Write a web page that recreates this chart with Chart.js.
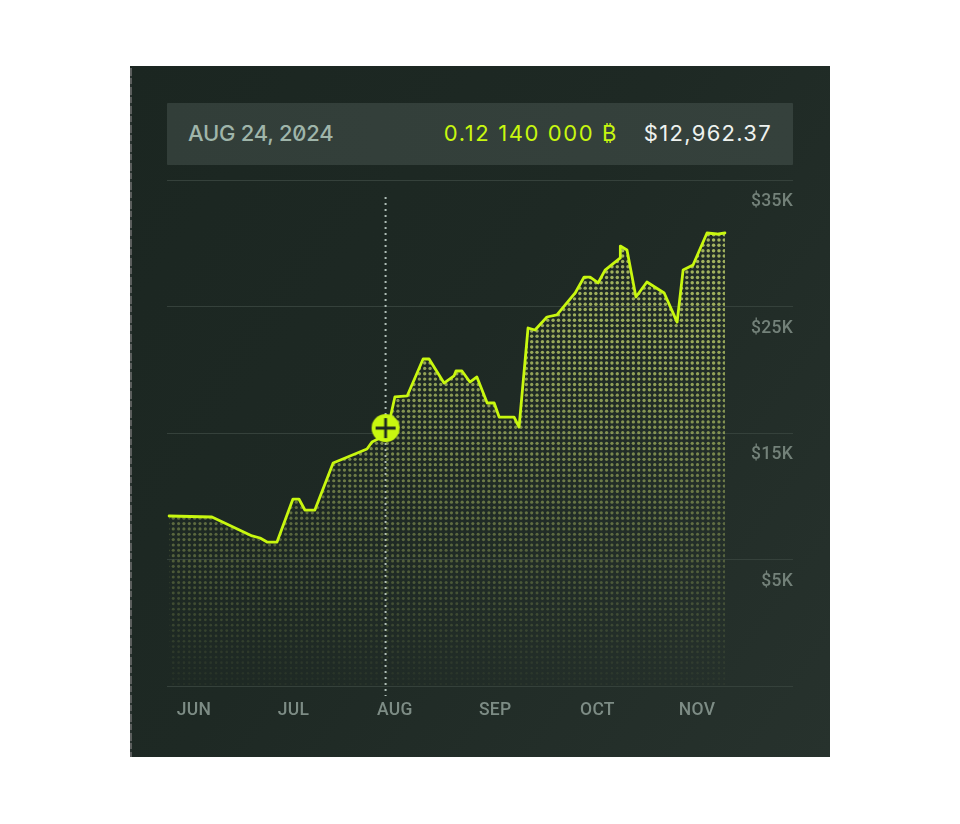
<!DOCTYPE html>
<html>
<head>
<meta charset="utf-8">
<script src="https://cdn.jsdelivr.net/npm/chart.js@4"></script>
<style>
html,body{margin:0;padding:0;background:#fff;width:960px;height:824px;overflow:hidden}
#panel{position:absolute;left:130px;top:66px;width:700px;height:691px;background:linear-gradient(125deg,#1b2621 0%,#1e2924 45%,#27322d 100%)}
#edge{position:absolute;left:130px;top:68px;width:2px;height:689px;background:repeating-linear-gradient(180deg,#5c5f5e 0 8px,#2a3330 8px 10px,#5c5f5e 10px 16px,#2a3330 16px 19px)}
#bar{position:absolute;left:167px;top:103px;width:626px;height:62px;background:linear-gradient(90deg,#323e39,#35413c);border-radius:1px}
#bar span{position:absolute;top:0;line-height:60px;font-family:Inter,sans-serif;font-size:22px;white-space:nowrap}
#date{left:21px;color:#9fb5aa;font-feature-settings:"zero" 1;font-weight:500;letter-spacing:-.25px}
#amount{right:175px;color:#c8f70f;letter-spacing:1.6px}
#price{right:21px;color:#eef2ef;letter-spacing:1.3px}
canvas{position:absolute;left:0;top:0}
</style>
</head>
<body>
<div id="panel"></div>
<div id="edge"></div>
<div id="bar"><span id="date"></span><span id="amount"></span><span id="price"></span></div>
<canvas id="c" width="960" height="824"></canvas>
<script>
const headerDate = "AUG 24, 2024";
const headerAmount = "0.12 140 000 ₿";
const headerPrice = "$12,962.37";

// days from 1 June
const days = [-7.5,5.4,17.5,19.9,22.0,25.0,29.8,31.6,33.4,36.4,41.9,52.1,53.6,55.4,57.8,60.5,64.2,69.0,70.8,75.3,78.3,78.9,80.7,83.1,85.2,88.3,90.4,91.9,96.4,97.9,100.6,102.7,106.3,109.3,114.8,117.5,119.3,121.7,123.8,128.3,128.4,130.4,133.1,136.4,141.6,145.5,147.3,150.3,154.5,157.5,159.9];
// thousands of dollars
const values = [8.44,8.36,6.86,6.70,6.38,6.38,9.78,9.78,8.91,8.91,12.63,13.73,14.29,14.53,14.68,17.85,17.93,20.85,20.85,18.95,19.51,19.90,19.90,19.03,19.43,17.37,17.37,16.26,16.26,15.47,23.30,23.14,24.17,24.33,26.07,27.33,27.33,26.86,27.88,28.83,29.78,29.47,25.75,26.94,26.07,23.77,27.88,28.28,30.81,30.73,30.81];

const monthLabels = ["JUN","JUL","AUG","SEP","OCT","NOV"];
const monthDays = [0,30,60.5,90.7,121.5,151.5];
const yTicks = [-5,5,15,25,35];
const cursorDay = [57.7];
const cursorValue = [15.39];
const cursorLineDays = [57.7,57.7];
const cursorLineValues = [33.66,-5.79];

const zip = (a,b) => a.map((x,i)=>({x,y:b[i]}));

document.getElementById('date').textContent = headerDate;
document.getElementById('amount').textContent = headerAmount;
document.getElementById('price').textContent = headerPrice;

// halftone fill pattern, anchored to the canvas
function halftone(w,h){
  const off = document.createElement('canvas'); off.width=w; off.height=h;
  const g = off.getContext('2d');
  const pitch = 5.35;
  const stops = [[220,.80,1.75],[350,.72,1.7],[430,.58,1.65],[500,.42,1.6],[560,.30,1.55],[610,.19,1.45],[650,.10,1.35],[686,.04,1.2]];
  const at = (y,k)=>{
    if(y<=stops[0][0]) return stops[0][k];
    for(let i=1;i<stops.length;i++) if(y<=stops[i][0]){
      const a=stops[i-1],b=stops[i],t=(y-a[0])/(b[0]-a[0]);
      return a[k]+(b[k]-a[k])*t;
    }
    return stops[stops.length-1][k];
  };
  for(let y=240-pitch*8;y<690;y+=pitch){
    for(let x=724.3;x>165;x-=pitch){
      g.beginPath();
      g.fillStyle='rgba(200,218,112,'+at(y,1)+')';
      g.arc(x,y,at(y,2),0,Math.PI*2);
      g.fill();
    }
  }
  return off;
}
function markerImage(){
  const off = document.createElement('canvas'); off.width=30; off.height=30;
  const g = off.getContext('2d');
  g.fillStyle='#c8f70f';
  g.beginPath(); g.arc(15,15,14,0,Math.PI*2); g.fill();
  g.strokeStyle='#1c2722'; g.lineWidth=2.8;
  g.beginPath(); g.moveTo(5,15); g.lineTo(25,15); g.moveTo(15,5); g.lineTo(15,25); g.stroke();
  return off;
}
const ctx = document.getElementById('c').getContext('2d');
const pattern = ctx.createPattern(halftone(960,824),'no-repeat');

const spacing = {id:'spacing',beforeDraw(c){ c.ctx.letterSpacing='0.3px'; }};
const tickFont = {family:'Roboto',size:17.5,weight:'500'};

new Chart(ctx,{
  type:'line',
  data:{datasets:[
    {data:zip(cursorDay,cursorValue),order:0,pointStyle:markerImage(),pointRadius:14,showLine:false,clip:false},
    {data:zip(days,values),order:1,borderColor:'#c8f70f',borderWidth:2.8,borderJoinStyle:'round',borderCapStyle:'round',tension:0,pointRadius:0,fill:{value:-5},backgroundColor:pattern,clip:false},
    {data:zip(cursorLineDays,cursorLineValues),order:2,borderColor:'#aebdb6',borderWidth:2,borderDash:[2,4],pointRadius:0,fill:false,clip:false}
  ]},
  options:{
    responsive:false,animation:false,
    layout:{padding:{left:167,right:167,top:180,bottom:0}},
    plugins:{legend:{display:false},tooltip:{enabled:false}},
    scales:{
      x:{type:'linear',min:-8.13,max:180.4,
        afterBuildTicks:s=>{s.ticks=monthDays.map(v=>({value:v}));},
        afterFit:s=>{s.height=138;},
        grid:{display:false},border:{display:false},
        ticks:{autoSkip:false,maxRotation:0,padding:6,color:'#7d8c85',font:tickFont,
          callback:(v,i)=>monthLabels[i]}},
      y:{type:'linear',position:'right',min:-5,max:35,
        afterBuildTicks:s=>{s.ticks=yTicks.map(v=>({value:v}));},
        grid:{color:'#35413b',lineWidth:1,drawTicks:false},border:{display:false},
        ticks:{mirror:true,padding:0,labelOffset:22,color:'#738179',font:tickFont,
          callback:v=>v<0?'':'$'+v+'K'}}
    }
  },
  plugins:[spacing]
});
</script>
</body>
</html>
